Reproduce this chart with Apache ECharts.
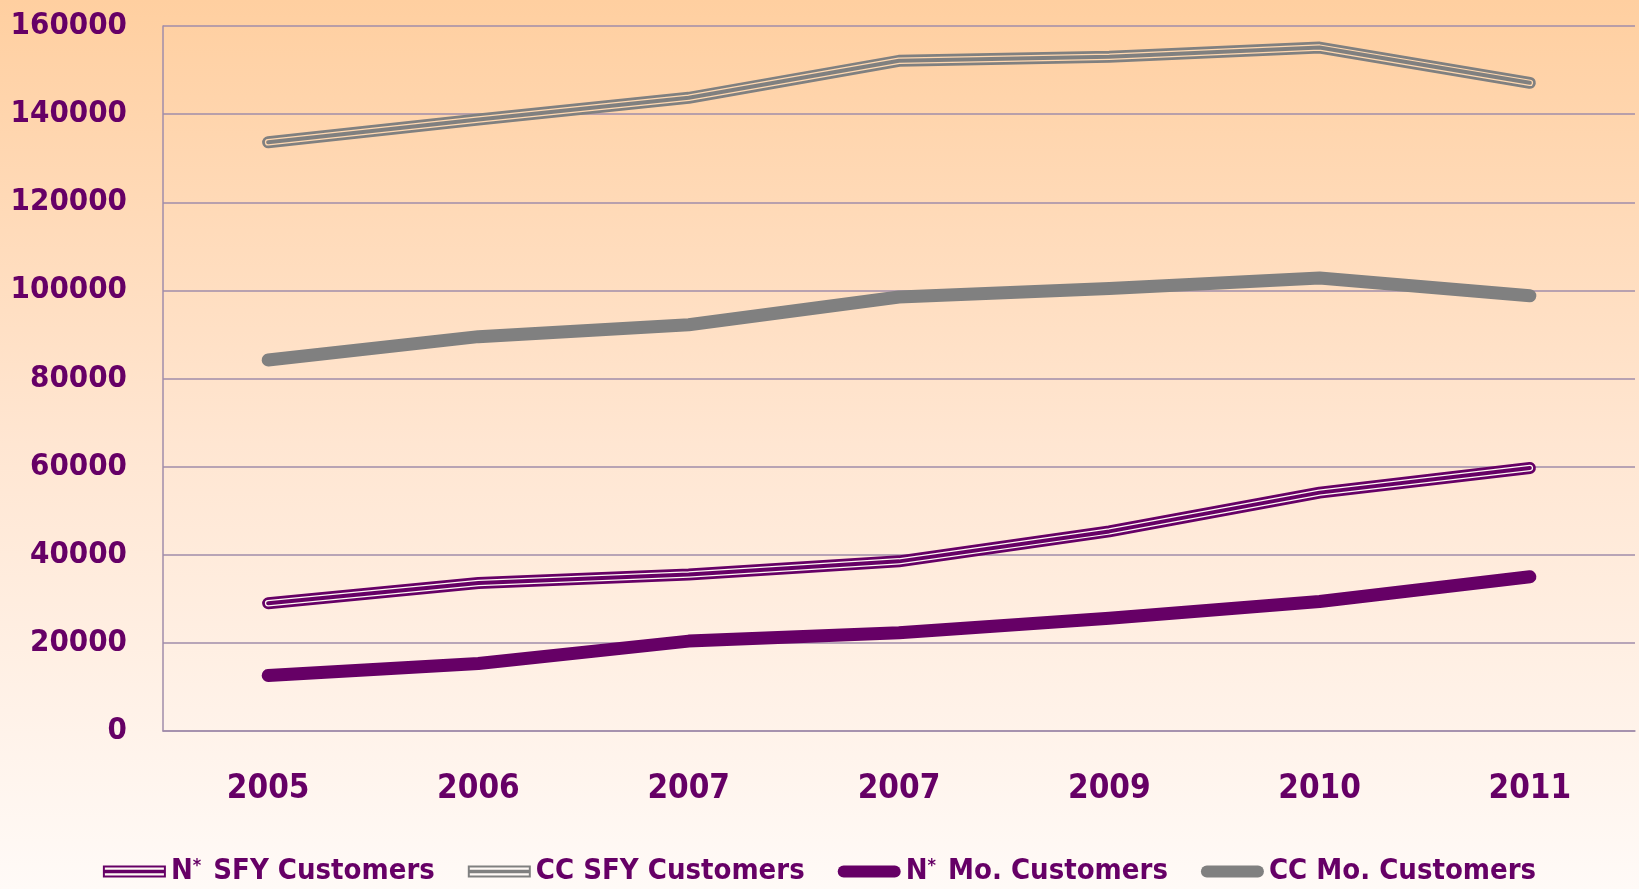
<!DOCTYPE html>
<html>
<head>
<meta charset="utf-8">
<script src="https://cdn.jsdelivr.net/npm/echarts@6/dist/echarts.min.js"></script>
<style>
html,body{margin:0;padding:0;width:1639px;height:889px;overflow:hidden;}
#chart{width:1639px;height:889px;}
</style>
</head>
<body>
<div id="chart"></div>
<script>
var categories = ['2005', '2006', '2007', '2007', '2009', '2010', '2011'];
var nSfyCustomers = [29000, 33600, 35500, 38500, 45300, 54100, 59700];
var ccSfyCustomers = [133600, 138800, 143700, 152100, 153000, 155100, 147100];
var nMoCustomers = [12600, 15300, 20400, 22300, 25600, 29400, 35000];
var ccMoCustomers = [84200, 89500, 92200, 98500, 100400, 102800, 98800];
var seriesNames = ['N* SFY Customers', 'CC SFY Customers', 'N* Mo. Customers', 'CC Mo. Customers'];
var yTicks = { min: 0, max: 160000, interval: 20000 };

var PURPLE = '#660066';
var GREY = '#808080';
var FONT = '"DejaVu Sans Condensed", "Liberation Sans Narrow", sans-serif';

function layer(name, data, color, width, z) {
  return {
    type: 'line', name: name, data: data, symbol: 'none', z: z,
    silent: true,
    itemStyle: { color: color },
    lineStyle: { color: color, width: width, cap: 'round', join: 'round' },
    emphasis: { disabled: true }
  };
}

var tripleIcon = 'path://M0,0 L64,0 L64,12 L0,12 Z M2,2 L2,10 L62,10 L62,2 Z M2,4.3 L62,4.3 L62,7.7 L2,7.7 Z';
var solidIcon = 'path://M6,0 L58,0 A6,6 0 0 1 58,12 L6,12 A6,6 0 0 1 6,0 Z';

var chart = echarts.init(document.getElementById('chart'), null, { renderer: 'canvas' });
chart.setOption({
  animation: false,
  backgroundColor: {
    type: 'linear', x: 0, y: 0, x2: 0, y2: 1,
    colorStops: [
      { offset: 0, color: '#FFCFA0' },
      { offset: 0.5, color: '#FFE6D2' },
      { offset: 1, color: '#FFFAF7' }
    ]
  },
  grid: { left: 163, right: 4, top: 26, bottom: 158, containLabel: false, outerBoundsMode: 'none' },
  legend: {
    data: [
      { name: seriesNames[0], icon: tripleIcon },
      { name: seriesNames[1], icon: tripleIcon },
      { name: seriesNames[2], icon: solidIcon },
      { name: seriesNames[3], icon: solidIcon }
    ],
    left: 'center',
    top: 852,
    itemWidth: 63,
    itemHeight: 13,
    itemGap: 33,
    itemStyle: { borderWidth: 0 },
    selectedMode: false,
    formatter: function (name) { return name.replace('N*', 'N{sup|*}'); },
    textStyle: {
      color: PURPLE, fontFamily: FONT, fontWeight: 'bold', fontSize: 29,
      rich: {
        sup: { color: PURPLE, fontFamily: FONT, fontWeight: 'bold', fontSize: 18, verticalAlign: 'top', padding: [0, 3, 10, 0] }
      }
    }
  },
  xAxis: {
    type: 'category',
    data: categories,
    boundaryGap: true,
    axisLine: { show: true, lineStyle: { color: '#A08CAA', width: 1.5 } },
    axisTick: { show: false },
    splitLine: { show: false },
    axisLabel: { color: PURPLE, fontFamily: FONT, fontWeight: 'bold', fontSize: 33, margin: 42 }
  },
  yAxis: {
    type: 'value',
    min: yTicks.min, max: yTicks.max, interval: yTicks.interval,
    axisLine: { show: true, lineStyle: { color: '#A08CAA', width: 1.5 } },
    axisTick: { show: false },
    splitLine: { show: true, lineStyle: { color: '#A08CAA', width: 1.5 } },
    axisLabel: {
      color: PURPLE, fontFamily: FONT, fontWeight: 'bold', fontSize: 31, margin: 36,
      formatter: function (v) { return String(v); }
    }
  },
  series: [
    layer(seriesNames[0], nSfyCustomers, PURPLE, 12, 3),
    layer(seriesNames[1], ccSfyCustomers, GREY, 12, 3),
    layer(seriesNames[2], nMoCustomers, PURPLE, 13, 3),
    layer(seriesNames[3], ccMoCustomers, GREY, 13, 3),
    layer(seriesNames[0], nSfyCustomers, '#FFF8F2', 6.5, 4),
    layer(seriesNames[0], nSfyCustomers, PURPLE, 4, 5),
    layer(seriesNames[1], ccSfyCustomers, '#FFD8B0', 6.5, 4),
    layer(seriesNames[1], ccSfyCustomers, GREY, 4, 5)
  ]
});
</script>
</body>
</html>
